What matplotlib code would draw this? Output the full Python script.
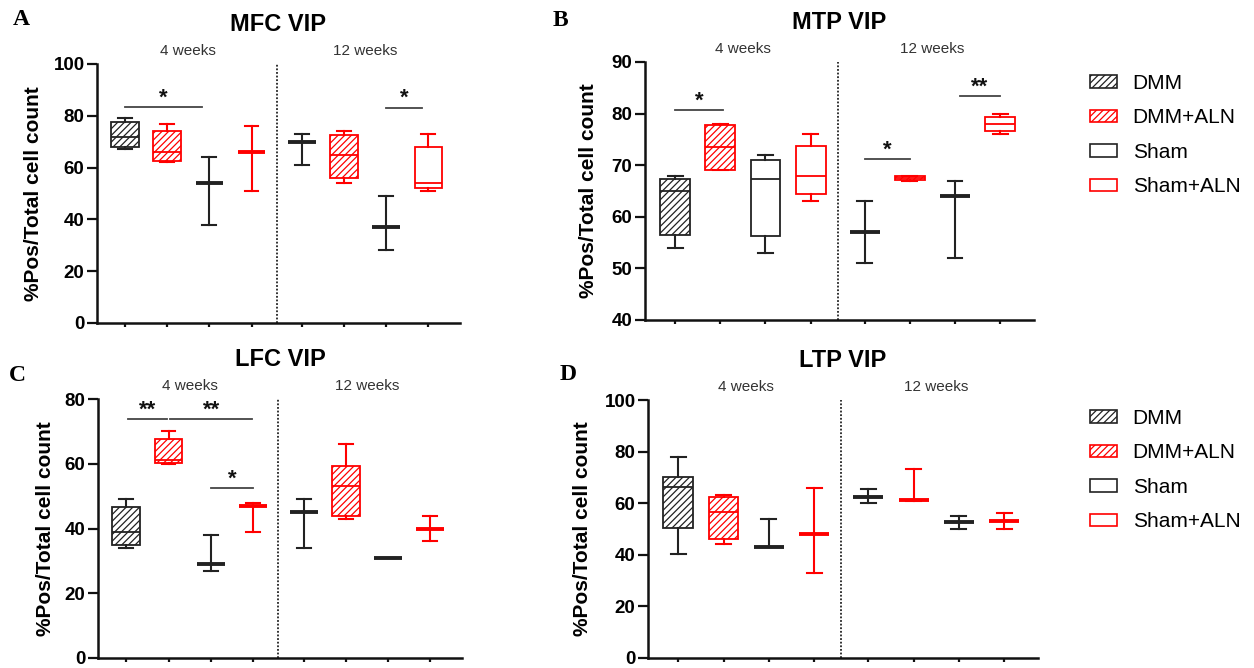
import matplotlib
matplotlib.use("Agg")
import matplotlib.pyplot as plt
from matplotlib.patches import Patch

plt.rcParams['font.family'] = ['Liberation Sans', 'DejaVu Sans']
plt.rcParams['hatch.linewidth'] = 0.9

# ---------------- data ----------------
groups = ["DMM", "DMM+ALN", "Sham", "Sham+ALN"]
timepoints = ["4 weeks", "12 weeks"]

# MFC VIP (panel A), order: 4w DMM, DMM+ALN, Sham, Sham+ALN, 12w DMM, DMM+ALN, Sham, Sham+ALN
mfc_min = [67, 62, 38, 51, 61, 54, 28, 51]
mfc_q1 = [68, 62.5, 54, 66, 70, 56, 37, 52]
mfc_med = [72, 66, 54, 66, 70, 65, 37, 54]
mfc_q3 = [77.5, 74, 54, 66, 70, 72.5, 37, 68]
mfc_max = [79, 77, 64, 76, 73, 74, 49, 73]

# MTP VIP (panel B)
mtp_min = [54, 69, 53, 63, 51, 67, 52, 76]
mtp_q1 = [56.5, 69, 56.3, 64.4, 57, 67.2, 64, 76.6]
mtp_med = [65, 73.5, 67.4, 68, 57, 67.6, 64, 78]
mtp_q3 = [67.3, 77.8, 71, 73.8, 57, 67.9, 64, 79.4]
mtp_max = [68, 78, 72, 76, 63, 68, 67, 80]

# LFC VIP (panel C)
lfc_min = [34, 60, 27, 39, 34, 43, 31, 36]
lfc_q1 = [35, 60.1, 29, 47, 45, 44, 31, 40]
lfc_med = [39, 61.3, 29, 47, 45, 53, 31, 40]
lfc_q3 = [46.5, 67.7, 29, 47, 45, 59.2, 31, 40]
lfc_max = [49, 70, 38, 48, 49, 66, 31, 44]

# LTP VIP (panel D)
ltp_min = [40.5, 44, 43, 33, 60, 61, 50, 50]
ltp_q1 = [50.5, 46.2, 43, 48, 62.3, 61.2, 52.7, 53.2]
ltp_med = [66.4, 56.5, 43, 48, 62.3, 61.2, 52.7, 53.2]
ltp_q3 = [70, 62.4, 43, 48, 62.3, 61.2, 52.7, 53.2]
ltp_max = [78, 63, 54, 66, 65.4, 73.3, 55.2, 56.3]

# significance annotations: (x_start, x_end, y, label)
mfc_sig = [(0, 1.83, 83.5, "*"), (6.2, 7.05, 83.2, "*")]
mtp_sig = [(0, 1.05, 80.7, "*"), (4.2, 5.2, 71.2, "*"), (6.3, 7.2, 83.4, "**")]
lfc_sig = [(0.05, 0.97, 73.8, "**"), (1.04, 2.98, 73.8, "**"), (2.0, 3.0, 52.4, "*")]
ltp_sig = []

# ---------------- style ----------------
BLACK = "#222222"
RED = "#ff0000"
positions = [0, 1, 2, 3, 4.2, 5.2, 6.2, 7.2]
group_color = [BLACK, RED, BLACK, RED]
group_hatch = ["/////", "/////", None, None]

fig = plt.figure(figsize=(12.54, 6.68), dpi=100)

W, H = 1254, 668


def ax_rect(left, right, top, bottom):
    return [left / W, 1 - bottom / H, (right - left) / W, (bottom - top) / H]


panels = [
    dict(rect=ax_rect(97, 460, 64, 323), title="MFC VIP", ylim=(0, 100), yticks=[0, 20, 40, 60, 80, 100],
         data=(mfc_min, mfc_q1, mfc_med, mfc_q3, mfc_max), sig=mfc_sig, ylab_x=-0.150, letter="A",
         letter_xy=(13, 25)),
    dict(rect=ax_rect(645, 1034, 62, 320), title="MTP VIP", ylim=(40, 90), yticks=[40, 50, 60, 70, 80, 90],
         data=(mtp_min, mtp_q1, mtp_med, mtp_q3, mtp_max), sig=mtp_sig, ylab_x=-0.121, letter="B",
         letter_xy=(553, 26)),
    dict(rect=ax_rect(98, 462, 399, 658), title="LFC VIP", ylim=(0, 80), yticks=[0, 20, 40, 60, 80],
         data=(lfc_min, lfc_q1, lfc_med, lfc_q3, lfc_max), sig=lfc_sig, ylab_x=-0.118, letter="C",
         letter_xy=(9, 381)),
    dict(rect=ax_rect(648, 1038, 400, 658), title="LTP VIP", ylim=(0, 100), yticks=[0, 20, 40, 60, 80, 100],
         data=(ltp_min, ltp_q1, ltp_med, ltp_q3, ltp_max), sig=ltp_sig, ylab_x=-0.144, letter="D",
         letter_xy=(560, 380)),
]

for p in panels:
    ax = fig.add_axes(p["rect"])
    mn, q1, md, q3, mx = p["data"]
    stats = []
    for i in range(len(positions)):
        stats.append(dict(whislo=mn[i], q1=q1[i], med=md[i], q3=q3[i], whishi=mx[i], fliers=[]))
    res = ax.bxp(stats, positions=positions, widths=0.66, capwidths=0.33, patch_artist=True,
                 showfliers=False, manage_ticks=False)
    for i in range(len(positions)):
        g = i % 4
        c = group_color[g]
        flat = q1[i] == q3[i]
        box = res["boxes"][i]
        box.set_facecolor("white")
        box.set_edgecolor(c)
        box.set_linewidth(1.3)
        if group_hatch[g] and not flat:
            box.set_hatch(group_hatch[g])
        med = res["medians"][i]
        med.set_color(c)
        med.set_linewidth(2.8 if flat else 1.3)
        for ln in res["whiskers"][2 * i:2 * i + 2] + res["caps"][2 * i:2 * i + 2]:
            ln.set_color(c)
            ln.set_linewidth(1.5)

    ax.set_xlim(-0.67, 7.95)
    ax.set_ylim(*p["ylim"])
    ax.set_yticks(p["yticks"])
    ax.set_xticks(positions)
    ax.set_xticklabels([])
    for s in ["top", "right"]:
        ax.spines[s].set_visible(False)
    for s in ["left", "bottom"]:
        ax.spines[s].set_linewidth(1.8)
        ax.spines[s].set_color("#111111")
    ax.tick_params(axis="y", length=7, width=1.6, labelsize=13.5, pad=2, color="#111111")
    ax.tick_params(axis="x", length=3, width=1.6, color="#111111")
    for lab in ax.get_yticklabels():
        lab.set_fontweight("bold")

    ax.axvline(3.6, color="#222222", linestyle=(0, (1, 1)), linewidth=1.3)

    ax.set_ylabel("%Pos/Total cell count", fontsize=15, fontweight="bold")
    ax.yaxis.set_label_coords(p["ylab_x"], 0.5)
    ax.set_title(p["title"], fontsize=17, fontweight="bold", pad=24)

    for tx, label in zip([1.5, 5.7], timepoints):
        ax.annotate(label, xy=(tx, 1.0), xycoords=("data", "axes fraction"), xytext=(0, 4),
                    textcoords="offset points", ha="center", va="bottom", fontsize=11, color="#333333")

    for x1, x2, y, lab in p["sig"]:
        ax.plot([x1, x2], [y, y], color="#444444", linewidth=1.3, clip_on=False)
        ax.annotate(lab, xy=((x1 + x2) / 2, y), xytext=(0, 2.5), textcoords="offset points",
                    ha="center", va="baseline", fontsize=16, fontweight="bold", color="#111111")

    lx, ly = p["letter_xy"]
    fig.text(lx / W, 1 - ly / H, p["letter"], fontsize=17, fontweight="bold",
             family="Liberation Serif", ha="left", va="baseline")

handles = [Patch(facecolor="white", edgecolor=group_color[g], hatch=group_hatch[g], linewidth=1.2)
           for g in range(4)]
for top in [74, 409]:
    fig.legend(handles, groups, loc="upper left", bbox_to_anchor=(1090 / W, 1 - top / H), frameon=False,
               fontsize=15, handlelength=1.3, handleheight=0.55, handletextpad=0.75, labelspacing=0.74,
               borderpad=0, borderaxespad=0)

fig.savefig("out.png", dpi=100)
